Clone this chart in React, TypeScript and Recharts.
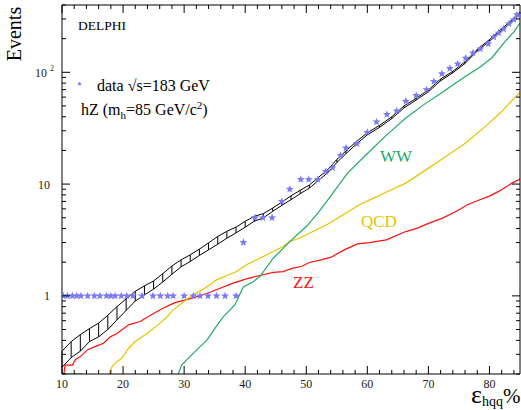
import React from 'react';
import { ComposedChart, Line, Scatter, XAxis, YAxis, ErrorBar } from 'recharts';

const W = 521;
const H = 410;
const FONT = "'Liberation Serif', 'Times New Roman', serif";

// Total MC expectation band (lower / upper edge)
const bandX = [10, 11.5, 13, 14.5, 16, 17.5, 19, 20.5, 22, 23.5, 25, 26.5, 28, 29.5, 31, 32.5, 34, 35.5, 37, 38.5, 40, 41.5, 43, 44.5, 46, 47.5, 49, 50.5, 52, 53.5, 55, 56.5, 58, 60, 62, 64, 66, 68, 70, 72, 74, 76, 78, 80, 82, 84, 85];
const bandHi = [0.32, 0.39, 0.45, 0.51, 0.57, 0.67, 0.80, 0.94, 1.10, 1.23, 1.36, 1.58, 1.85, 2.10, 2.33, 2.62, 2.98, 3.40, 3.78, 4.12, 4.65, 5.15, 5.45, 6.1, 6.9, 7.85, 8.8, 9.8, 11.5, 13.4, 16.6, 19.8, 23.5, 28.8, 33.5, 40, 50, 58.5, 69.5, 87, 102, 124, 160, 196, 245, 305, 345];
const bandLo = [0.23, 0.28, 0.32, 0.39, 0.43, 0.50, 0.61, 0.74, 0.90, 1.02, 1.15, 1.33, 1.56, 1.82, 2.03, 2.30, 2.58, 2.90, 3.28, 3.66, 4.12, 4.65, 5.0, 5.7, 6.45, 7.25, 8.2, 9.2, 10.8, 12.6, 15.6, 18.7, 22.3, 27.6, 32.2, 38.5, 48, 56.5, 67, 84, 99, 120, 155, 190, 237, 295, 335];

// Data (stars)
const starX = [10.2, 10.9, 11.7, 12.4, 13.1, 14.2, 15.3, 16.2, 17.3, 18.0, 18.7, 19.7, 20.6, 21.6, 23.1, 24.9, 26.1, 27.3, 28.2, 30.0, 31.5, 32.6, 33.9, 35.3, 36.7, 38.5, 39.7, 41.6, 42.9, 44.4, 46.0, 47.3, 49.1, 50.4, 51.9, 53.2, 54.3, 55.6, 56.5, 58.3, 60.0, 61.5, 63.2, 64.8, 66.3, 68.0, 69.7, 70.9, 72.2, 73.5, 74.8, 76.1, 77.3, 78.5, 79.8, 80.7, 81.5, 82.3, 83.2, 84.0, 84.5];
const starY = [1, 1, 1, 1, 1, 1, 1, 1, 1, 1, 1, 1, 1, 1, 1, 1, 1, 1, 1, 1, 1, 1, 1, 1, 1, 1, 3, 5, 5, 5, 7, 9, 11, 11, 11, 13, 14, 18, 21, 23, 29, 36, 42, 45, 55, 62, 70, 83, 97, 108, 119, 134, 149, 162, 180, 207, 225, 244, 272, 296, 328];

// WW background
const wwX = [10, 13.4, 13.5, 28.7, 29.6, 30.7, 32.1, 33.7, 35.0, 36.4, 38.3, 39.7, 41.3, 42.4, 44.6, 47.3, 50.0, 51.9, 53.5, 56.8, 59.8, 63.0, 66.3, 69.6, 71.7, 74.0, 76.1, 78.3, 80.4, 82.6, 84, 85];
const wwY = [0.2, 0.2, null, 0.18, 0.24, 0.277, 0.33, 0.40, 0.51, 0.65, 0.83, 1.2, 1.34, 1.49, 2.17, 3.06, 4.17, 5.5, 7.2, 12.6, 18.3, 27, 39, 53, 63, 77, 92, 110, 135, 190, 230, 276];

// QCD background
const qcdX = [17.3, 18.2, 19.0, 19.8, 20.9, 22.0, 23.9, 26.1, 27.2, 28.2, 29.6, 31.2, 33.4, 35.3, 38.6, 40.2, 42.4, 44.6, 46.2, 47.3, 48.9, 51.1, 53.8, 56.5, 58.7, 60.6, 63.0, 66.3, 69.6, 72.8, 76.1, 79.4, 82.1, 83.7, 85];
const qcdY = [0.18, 0.233, 0.258, 0.277, 0.34, 0.39, 0.46, 0.57, 0.65, 0.75, 0.86, 1.0, 1.17, 1.39, 1.65, 1.9, 2.17, 2.49, 2.76, 3.06, 3.29, 3.76, 4.47, 5.5, 6.53, 7.3, 8.4, 10.2, 13.4, 17.6, 23.3, 33, 45, 56, 66];

// ZZ background
const zzX = [10.2, 10.5, 11.7, 12.2, 13.0, 14.2, 15.7, 16.8, 17.9, 19.0, 20.9, 22.8, 24.7, 26.6, 27.7, 28.5, 29.9, 31.5, 33.7, 35.9, 38.0, 40.2, 42.4, 44.6, 46.2, 47.8, 49.2, 50.5, 52.4, 54.1, 56.2, 58.4, 60.3, 63.1, 66.3, 68.2, 70.1, 72.3, 74.5, 76.4, 78.3, 79.9, 81.5, 83.7, 85];
const zzY = [0.18, 0.24, 0.24, 0.27, 0.286, 0.33, 0.357, 0.377, 0.43, 0.46, 0.55, 0.59, 0.68, 0.78, 0.83, 0.87, 0.91, 0.96, 1.05, 1.17, 1.3, 1.42, 1.52, 1.62, 1.65, 1.77, 1.83, 1.99, 2.1, 2.22, 2.58, 2.92, 3.0, 3.17, 3.76, 4.04, 4.47, 4.96, 5.69, 6.53, 7.2, 7.76, 8.6, 10.2, 11.1];

// Axis ticks
const xTicks = [10, 12, 14, 16, 18, 20, 22, 24, 26, 28, 30, 32, 34, 36, 38, 40, 42, 44, 46, 48, 50, 52, 54, 56, 58, 60, 62, 64, 66, 68, 70, 72, 74, 76, 78, 80, 82, 84];
const xMajor = [10, 20, 30, 40, 50, 60, 70, 80];
const yTicks = [0.2, 0.3, 0.4, 0.5, 0.6, 0.7, 0.8, 0.9, 1, 2, 3, 4, 5, 6, 7, 8, 9, 10, 20, 30, 40, 50, 60, 70, 80, 90, 100, 200, 300, 400];
const yMajor = [1, 10, 100];

const COL_WW = '#22aa66';
const COL_QCD = '#e8c200';
const COL_ZZ = '#ff1010';
const COL_DATA = '#7a7af2';

const bandData = bandX.map((x, i) => {
  const mid = (bandLo[i] + bandHi[i]) / 2;
  return { x, lo: bandLo[i], hi: bandHi[i], mid, err: [mid - bandLo[i], bandHi[i] - mid] };
});
const starData = starX.map((x, i) => ({ x, y: starY[i] }));
const wwData = wwX.map((x, i) => ({ x, y: wwY[i] }));
const qcdData = qcdX.map((x, i) => ({ x, y: qcdY[i] }));
const zzData = zzX.map((x, i) => ({ x, y: zzY[i] }));

function starPoints(cx: number, cy: number, r1: number, r2: number) {
  const pts: string[] = [];
  for (let k = 0; k < 10; k++) {
    const r = k % 2 === 0 ? r1 : r2;
    const a = -Math.PI / 2 + (k * Math.PI) / 5;
    pts.push(`${cx + r * Math.cos(a)},${cy + r * Math.sin(a)}`);
  }
  return pts.join(' ');
}

const StarShape = (p: any) => {
  const { cx, cy } = p;
  if (cx == null || cy == null) return <g />;
  return <polygon points={starPoints(cx, cy, 4.2, 1.8)} fill={COL_DATA} />;
};

const BottomTick = (p: any) => {
  const { x, y, payload } = p;
  const v = payload.value;
  const major = xMajor.includes(v);
  return (
    <g>
      <line x1={x} y1={y} x2={x} y2={y - (major ? 8 : 4)} stroke="#000" strokeWidth={1} />
      {major && (
        <text x={x} y={y + 14} textAnchor="middle" fontFamily={FONT} fontSize={12} fill="#222">
          {v}
        </text>
      )}
    </g>
  );
};

const TopTick = (p: any) => {
  const { x, y, payload } = p;
  const major = xMajor.includes(payload.value);
  return <line x1={x} y1={y} x2={x} y2={y + (major ? 8 : 4)} stroke="#000" strokeWidth={1} />;
};

const LeftTick = (p: any) => {
  const { x, y, payload } = p;
  const v = payload.value;
  const major = yMajor.includes(v);
  let label: React.ReactNode = null;
  if (v === 1 || v === 10) {
    label = (
      <text x={x - 12} y={y + 4.5} textAnchor="end" fontFamily={FONT} fontSize={12} fill="#222">
        {v}
      </text>
    );
  } else if (v === 100) {
    label = (
      <g>
        <text x={x - 15} y={y + 4.5} textAnchor="end" fontFamily={FONT} fontSize={12} fill="#222">
          10
        </text>
        <text x={x - 12} y={y - 1} textAnchor="start" fontFamily={FONT} fontSize={8} fill="#222">
          2
        </text>
      </g>
    );
  }
  return (
    <g>
      <line x1={x} y1={y} x2={x + (major ? 8 : 4)} y2={y} stroke="#000" strokeWidth={1} />
      {label}
    </g>
  );
};

const RightTick = (p: any) => {
  const { x, y, payload } = p;
  const major = yMajor.includes(payload.value);
  return <line x1={x} y1={y} x2={x - (major ? 8 : 4)} y2={y} stroke="#000" strokeWidth={1} />;
};

export default function App() {
  return (
    <div style={{ position: 'absolute', left: 0, top: 0, width: W, height: H, background: '#fff' }}>
      <ComposedChart width={W} height={H} margin={{ top: 0, right: 0, bottom: 0, left: 0 }}>
        <XAxis
          xAxisId="b"
          dataKey="x"
          type="number"
          domain={[10, 85]}
          allowDataOverflow
          orientation="bottom"
          height={36}
          ticks={xTicks}
          interval={0}
          tickSize={0}
          tickMargin={0}
          tickLine={false}
          tick={<BottomTick />}
          axisLine={{ stroke: '#000', strokeWidth: 1 }}
        />
        <XAxis
          xAxisId="t"
          dataKey="x"
          type="number"
          domain={[10, 85]}
          allowDataOverflow
          orientation="top"
          height={5}
          ticks={xTicks}
          interval={0}
          tickSize={0}
          tickMargin={0}
          tickLine={false}
          tick={<TopTick />}
          axisLine={{ stroke: '#000', strokeWidth: 1 }}
        />
        <YAxis
          yAxisId="l"
          type="number"
          scale="log"
          domain={[0.2, 400]}
          allowDataOverflow
          orientation="left"
          width={62}
          ticks={yTicks}
          interval={0}
          tickSize={0}
          tickMargin={0}
          tickLine={false}
          tick={<LeftTick />}
          axisLine={{ stroke: '#000', strokeWidth: 1 }}
        />
        <YAxis
          yAxisId="r"
          type="number"
          scale="log"
          domain={[0.2, 400]}
          allowDataOverflow
          orientation="right"
          width={1}
          ticks={yTicks}
          interval={0}
          tickSize={0}
          tickMargin={0}
          tickLine={false}
          tick={<RightTick />}
          axisLine={{ stroke: '#000', strokeWidth: 1 }}
        />

        <Line xAxisId="b" yAxisId="l" data={zzData} dataKey="y" stroke={COL_ZZ} strokeWidth={1.2} dot={false} activeDot={false} isAnimationActive={false} type="linear" />
        <Line xAxisId="b" yAxisId="l" data={qcdData} dataKey="y" stroke={COL_QCD} strokeWidth={1.2} dot={false} activeDot={false} isAnimationActive={false} type="linear" />
        <Line xAxisId="b" yAxisId="l" data={wwData} dataKey="y" stroke={COL_WW} strokeWidth={1.2} dot={false} activeDot={false} isAnimationActive={false} type="linear" />

        <Line xAxisId="b" yAxisId="l" data={bandData} dataKey="mid" stroke="none" dot={false} activeDot={false} isAnimationActive={false} type="linear">
          <ErrorBar dataKey="err" width={0} stroke="#000" strokeWidth={1} direction="y" isAnimationActive={false} />
        </Line>
        <Line xAxisId="b" yAxisId="l" data={bandData} dataKey="hi" stroke="#000" strokeWidth={1} dot={false} activeDot={false} isAnimationActive={false} type="linear" />
        <Line xAxisId="b" yAxisId="l" data={bandData} dataKey="lo" stroke="#000" strokeWidth={1} dot={false} activeDot={false} isAnimationActive={false} type="linear" />

        <Scatter xAxisId="b" yAxisId="l" data={starData} dataKey="y" shape={StarShape} isAnimationActive={false} />
      </ComposedChart>

      <svg width={W} height={H} style={{ position: 'absolute', left: 0, top: 0, pointerEvents: 'none' }}>
        <text transform="rotate(-90)" x={-34} y={21} textAnchor="middle" fontFamily={FONT} fontSize={20} fill="#000">
          Events
        </text>
        <text x={78} y={30} fontFamily={FONT} fontSize={13.5} fill="#000">
          DELPHI
        </text>
        <polygon points={starPoints(79.5, 84, 2.6, 1.1)} fill={COL_DATA} />
        <text x={97} y={91} fontFamily={FONT} fontSize={16} fill="#000">
          data √s=183 GeV
        </text>
        <text x={81} y={115} fontFamily={FONT} fontSize={16} fill="#000">
          hZ (m<tspan fontSize={11} dy={4}>h</tspan>
          <tspan dy={-4}>=85 GeV/c</tspan>
          <tspan fontSize={11} dy={-6}>2</tspan>
          <tspan dy={6}>)</tspan>
        </text>
        <text x={380} y={162} fontFamily={FONT} fontSize={17} fill={COL_WW}>
          WW
        </text>
        <text x={361} y={227} fontFamily={FONT} fontSize={17} fill={COL_QCD}>
          QCD
        </text>
        <text x={293} y={288} fontFamily={FONT} fontSize={17} fill={COL_ZZ}>
          ZZ
        </text>
        <text x={471} y={403} fontFamily={FONT} fontSize={26} fill="#000">
          ε<tspan fontSize={14} dy={3}>hqq</tspan>
          <tspan fontSize={21} dy={-3}>%</tspan>
        </text>
      </svg>
    </div>
  );
}
